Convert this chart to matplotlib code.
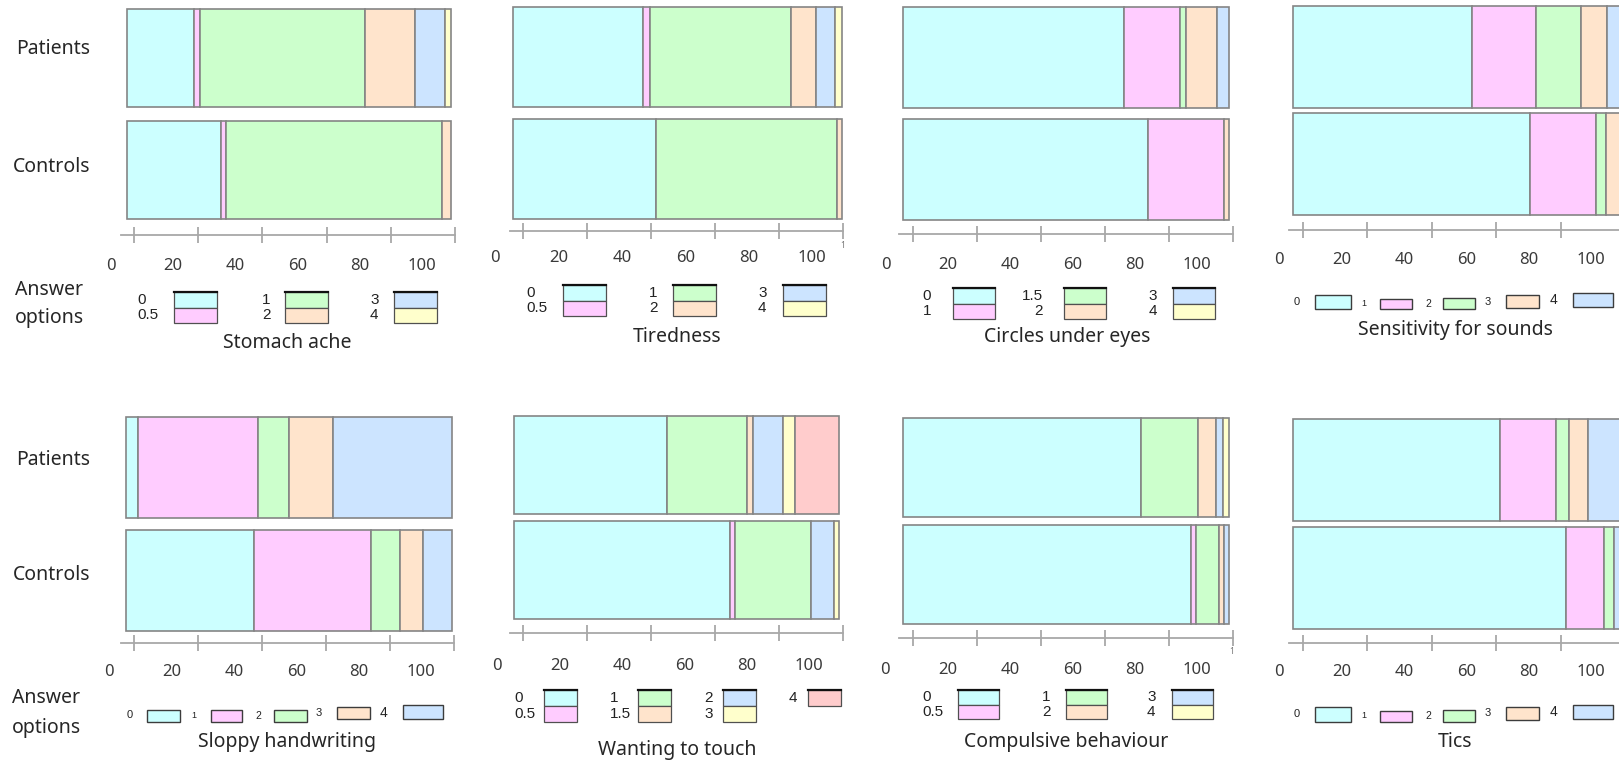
import matplotlib
matplotlib.use("Agg")
import matplotlib.pyplot as plt
from matplotlib.patches import Rectangle
import numpy as np

# ---------------- data (percent of respondents per answer option) ----------------
groups = ["Patients", "Controls"]
tick_values = [0, 20, 40, 60, 80, 100]

stomach_options = ["0", "0.5", "1", "2", "3", "4"]
stomach_patients = [20.6, 1.9, 51.1, 15.2, 9.3, 1.9]
stomach_controls = [29.0, 1.5, 66.7, 2.8, 0, 0]

tiredness_options = ["0", "0.5", "1", "2", "3", "4"]
tiredness_patients = [39.5, 2.0, 43.1, 7.6, 5.6, 2.2]
tiredness_controls = [43.4, 0, 55.1, 1.5, 0, 0]

circles_options = ["0", "1", "1.5", "2", "3", "4"]
circles_patients = [67.9, 17.0, 1.8, 9.6, 3.7, 0]
circles_controls = [75.3, 23.3, 0, 1.4, 0, 0]

sounds_options = ["0", "1", "2", "3", "4"]
sounds_patients = [54.7, 19.5, 13.7, 7.9, 4.2]
sounds_controls = [72.2, 20.2, 3.0, 4.6, 0]

handwriting_options = ["0", "1", "2", "3", "4"]
handwriting_patients = [3.7, 36.7, 9.5, 13.5, 36.6]
handwriting_controls = [39.2, 36.1, 8.7, 7.2, 8.8]

touch_options = ["0", "0.5", "1", "1.5", "2", "3", "4"]
touch_patients = [47.2, 0, 24.5, 1.7, 9.4, 3.8, 13.4]
touch_controls = [66.6, 1.5, 23.2, 0, 7.1, 1.6, 0]

compulsive_options = ["0", "0.5", "1", "2", "3", "4"]
compulsive_patients = [73.1, 0, 17.3, 5.7, 2.0, 1.9]
compulsive_controls = [88.4, 1.4, 7.2, 1.5, 1.5, 0]

tics_options = ["0", "1", "2", "3", "4"]
tics_patients = [63.1, 17.1, 4.0, 5.8, 10.0]
tics_controls = [83.2, 11.6, 3.0, 0, 2.2]

titles = ["Stomach ache", "Tiredness", "Circles under eyes", "Sensitivity for sounds",
          "Sloppy handwriting", "Wanting to touch", "Compulsive behaviour", "Tics"]

# ---------------- styling ----------------
palette = ["#CCFFFF", "#FFCCFF", "#CCFFCC", "#FFE4CC", "#CCE4FF", "#FFFFCC", "#FFCCCC"]
BAR_EDGE = "#858585"
AXIS_GREY = "#a8a8a8"
TEXT = "#262626"

plt.rcParams["font.family"] = ["Noto Sans", "DejaVu Sans"]
LEG_FONT = ["Liberation Sans", "DejaVu Sans"]

W, H = 1619, 763
fig = plt.figure(figsize=(W / 100, H / 100), dpi=100)


def px_axes(x0, y0, x1, y1, **kw):
    """Axes placed by pixel box (origin top-left)."""
    return fig.add_axes([x0 / W, 1 - y1 / H, (x1 - x0) / W, (y1 - y0) / H], **kw)


# overlay in pixel coordinates for captions and legend keys
ov = fig.add_axes([0, 0, 1, 1])
ov.set_xlim(0, W)
ov.set_ylim(H, 0)
ov.axis("off")

panels = [
    dict(opts=stomach_options, pat=stomach_patients, con=stomach_controls,
         bar=(127, 451, 9, 219), h=0.87, axis=(121, 455, 235, 134), lab=(111, 422, 267),
         title=(287, 343),
         leg=dict(kind="pairs", cols=[174, 285, 394], w=43, top=292, hh=15.5,
                  lx=[137, 262, 370], ha="left")),
    dict(opts=tiredness_options, pat=tiredness_patients, con=tiredness_controls,
         bar=(513, 842, 7, 219), h=0.885, axis=(510, 843, 231, 523), lab=(495, 812, 259),
         title=(677, 337), stray=(843, 245),
         leg=dict(kind="pairs", cols=[563, 673, 783], w=43, top=285, hh=15.5,
                  lx=[526, 649, 758], ha="left")),
    dict(opts=circles_options, pat=circles_patients, con=circles_controls,
         bar=(903, 1229, 7, 220), h=0.91, axis=(899, 1233, 234, 913), lab=(886, 1197, 266),
         title=(1067, 337),
         leg=dict(kind="pairs", cols=[953, 1064, 1173], w=42, top=288, hh=15.5,
                  lx=[931, 1043, 1157], ha="right")),
    dict(opts=sounds_options, pat=sounds_patients, con=sounds_controls,
         bar=(1293, 1621, 6, 215), h=0.953, axis=(1289, 1625, 230, 1303), lab=(1279, 1591, 260),
         title=(1455, 330),
         leg=dict(kind="row",
                  sx=[(1315, 1351), (1380, 1412), (1443, 1475), (1506, 1539), (1573, 1613)],
                  sy=[(295, 309), (299, 309), (298, 309), (295, 308), (293, 307)],
                  lx=[1297, 1364, 1428, 1488, 1553], ly=[302, 304, 304, 302, 300])),
    dict(opts=handwriting_options, pat=handwriting_patients, con=handwriting_controls,
         bar=(126, 452, 417, 631), h=0.894, axis=(121, 454, 643, 134), lab=(109, 421, 673),
         title=(287, 742),
         leg=dict(kind="row",
                  sx=[(147, 180), (211, 242), (274, 307), (337, 370), (403, 443)],
                  sy=[(710, 722), (710, 722), (710, 722), (707, 719), (705, 719)],
                  lx=[130, 194, 258, 319, 383], ly=[715, 716, 716, 713, 713])),
    dict(opts=touch_options, pat=touch_patients, con=touch_controls,
         bar=(514, 839, 416, 619), h=0.933, axis=(510, 843, 633, 523), lab=(497, 809, 667),
         title=(677, 750),
         leg=dict(kind="pairs", cols=[544, 638, 723, 808], w=33, top=690, hh=16,
                  lx=[514, 610, 704, 789], ha="left")),
    dict(opts=compulsive_options, pat=compulsive_patients, con=compulsive_controls,
         bar=(903, 1229, 418, 624), h=0.917, axis=(899, 1233, 638, 913), lab=(885, 1197, 671),
         title=(1066, 742), stray=(1232, 652),
         leg=dict(kind="pairs", cols=[958, 1066, 1172], w=41, top=690, hh=14.5,
                  lx=[922, 1042, 1147], ha="left")),
    dict(opts=tics_options, pat=tics_patients, con=tics_controls,
         bar=(1293, 1621, 419, 629), h=0.944, axis=(1289, 1625, 643, 1303), lab=(1279, 1591, 673),
         title=(1455, 742),
         leg=dict(kind="row",
                  sx=[(1315, 1351), (1380, 1412), (1443, 1475), (1506, 1539), (1573, 1613)],
                  sy=[(707, 722), (711, 722), (710, 722), (707, 720), (705, 719)],
                  lx=[1297, 1364, 1428, 1488, 1553], ly=[714, 716, 716, 713, 712])),
]

row_sizes = [8, 6.5, 7.5, 8, 10]
PX_PER_UNIT = 65 / 20  # axis ticks: 65 px per 20 %

for p, title in zip(panels, titles):
    # ---- stacked horizontal bars ----
    x0, x1, y0, y1 = p["bar"]
    h = p["h"]
    ax = px_axes(x0, y0, x1, y1)
    ax.set_xlim(0, 100)
    ax.set_ylim(-h / 2, 1 + h / 2)
    ax.axis("off")
    for ypos, vals in zip([1, 0], [p["pat"], p["con"]]):
        vals = np.asarray(vals, dtype=float)
        lefts = np.concatenate([[0], np.cumsum(vals)[:-1]])
        for i, (v, l) in enumerate(zip(vals, lefts)):
            if v <= 0:
                continue
            ax.barh(ypos, v, left=l, height=h, color=palette[i],
                    edgecolor=BAR_EDGE, linewidth=1.2, clip_on=False)

    # ---- axis line with tick marks ----
    ax0, ax1, ay, t0 = p["axis"]
    tax = px_axes(ax0, ay - 1, ax1, ay)
    tax.set_xlim((ax0 - t0) / PX_PER_UNIT, (ax1 - t0) / PX_PER_UNIT)
    tax.set_yticks([])
    tax.set_xticks(tick_values)
    tax.patch.set_visible(False)
    for s in ["top", "left", "right"]:
        tax.spines[s].set_visible(False)
    tax.spines["bottom"].set_color(AXIS_GREY)
    tax.spines["bottom"].set_linewidth(1.3)
    tax.tick_params(axis="x", direction="inout", length=12, width=1.3,
                    color=AXIS_GREY, labelbottom=False)

    # ---- tick labels ----
    l0, l100, ly = p["lab"]
    lax = px_axes(l0, ly - 9.5, l100, ly - 8.5)
    lax.set_xlim(0, 100)
    lax.set_yticks([])
    lax.patch.set_visible(False)
    for s in lax.spines.values():
        s.set_visible(False)
    lax.set_xticks(tick_values)
    lax.set_xticklabels([str(v) for v in tick_values])
    lax.tick_params(axis="x", length=0, pad=0, labelsize=12, labelcolor="#3a3a3a")

    if "stray" in p:
        sx, sy = p["stray"]
        ov.text(sx, sy, "1", fontsize=6, color="#777777", ha="center", va="center")

    # ---- title ----
    tx, ty = p["title"]
    ov.text(tx, ty, title, fontsize=14, color=TEXT, ha="center", va="center")

    # ---- answer-option key ----
    leg = p["leg"]
    opts = p["opts"]
    if leg["kind"] == "pairs":
        for c, cx in enumerate(leg["cols"]):
            idxs = [k for k in (2 * c, 2 * c + 1) if k < len(opts)]
            for r, k in enumerate(idxs):
                top = leg["top"] + r * leg["hh"]
                ov.add_patch(Rectangle((cx, top), leg["w"], leg["hh"],
                                       facecolor=palette[k], edgecolor="#505050", lw=0.9))
                ov.text(leg["lx"][c], top + leg["hh"] / 2, opts[k], fontsize=11,
                        family=LEG_FONT, color="#222222", ha=leg["ha"], va="center")
            ov.plot([cx, cx + leg["w"]], [leg["top"], leg["top"]], color="#111111", lw=1.6)
    else:
        for k, lab in enumerate(opts):
            (sx0, sx1), (sy0, sy1) = leg["sx"][k], leg["sy"][k]
            ov.add_patch(Rectangle((sx0, sy0), sx1 - sx0, sy1 - sy0,
                                   facecolor=palette[k], edgecolor="#3c3c3c", lw=1.0))
            ov.text(leg["lx"][k], leg["ly"][k], lab, fontsize=row_sizes[k],
                    family=LEG_FONT, color="#222222", ha="center", va="center")

# ---- group and key captions ----
for (yp, yc) in [(49, 167), (460, 575)]:
    ov.text(53, yp, groups[0], fontsize=14, color=TEXT, ha="center", va="center")
    ov.text(52, yc, groups[1], fontsize=14, color=TEXT, ha="center", va="center")
for (ya, yb, xl) in [(290, 318, 15), (698, 728, 12)]:
    ov.text(xl, ya, "Answer", fontsize=14, color=TEXT, ha="left", va="center")
    ov.text(xl, yb, "options", fontsize=14, color=TEXT, ha="left", va="center")

fig.savefig("out.png", dpi=100, facecolor="white")
